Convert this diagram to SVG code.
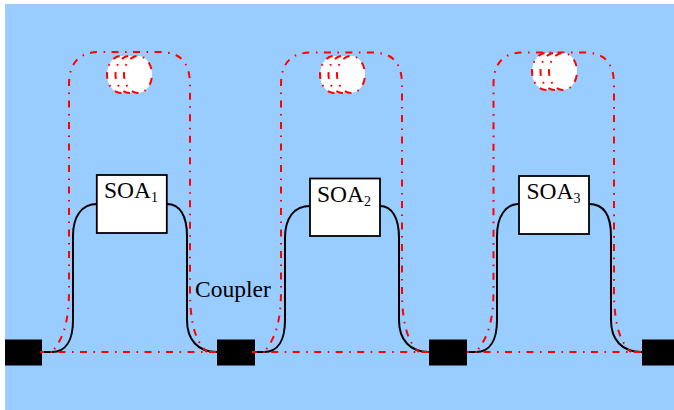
<svg xmlns="http://www.w3.org/2000/svg" width="674" height="410" viewBox="0 0 674 410">
<style>
.wire{fill:none;stroke:#000;stroke-width:2}
.red{fill:none;stroke:#f00;stroke-width:2;stroke-dasharray:7 6.5 1.6 6.4;stroke-dashoffset:9.8}
.ring{fill:#fff;stroke:#f00;stroke-width:2;stroke-dasharray:7 6.5 1.6 6.4;stroke-dashoffset:18}
.box{fill:#fff;stroke:#000;stroke-width:1.8}
.coupler{fill:#000}
text{font-family:"Liberation Serif","Times New Roman",serif;fill:#000;font-size:23.5px}
.sub{font-size:14px}
</style>
<rect x="5" y="4" width="669" height="406" fill="#99ccff"/>
<g id="connectors">
<path class="wire" d="M42 352H52C66 352 73 340 73 320V236C73 216 82 204 97 204"/>
<path class="wire" d="M167 204C180 204 187 216 187 236V320C187 340 198 352 217 352"/>
<path class="wire" d="M255 352H264C278 352 285 340 285 320V238C285 218 294 206 310 206"/>
<path class="wire" d="M380 206C392 206 399 218 399 238V320C399 340 410 352 429 352"/>
<path class="wire" d="M467 352H476C490 352 497 340 497 320V236C497 216 506 204 519 204"/>
<path class="wire" d="M589 204C604 204 611 216 611 236V320C611 340 622 352 642 352"/>
<path class="red" d="M52 352C62 340 69 325 69 290V85C69 62 80 52 100 52H160C180 52 190 62 190 85V290C190 325 196 342 207 352"/>
<path class="red" d="M264 352C274 340 281 325 281 290V85C281 62 292 52.500 312 52.500H372C392 52.500 402 62 402 85V290C402 325 408 342 419 352"/>
<path class="red" d="M476 352C486 340 493.500 325 493.500 290V85C493.500 62 504 52.500 524 52.500H584C604 52.500 614 62 614 85V290C614 325 620 342 631 352"/>
</g>
<g id="ring1"><ellipse class="ring" cx="121" cy="74.500" rx="14" ry="18.500"/><ellipse class="ring" cx="129.500" cy="74.500" rx="14" ry="18.500"/><ellipse class="ring" cx="138" cy="74.500" rx="14" ry="18.500"/></g>
<g id="ring2"><ellipse class="ring" cx="334" cy="74.500" rx="14" ry="18.500"/><ellipse class="ring" cx="342.500" cy="74.500" rx="14" ry="18.500"/><ellipse class="ring" cx="351" cy="74.500" rx="14" ry="18.500"/></g>
<g id="ring3"><ellipse class="ring" cx="546" cy="71.500" rx="14" ry="18.500"/><ellipse class="ring" cx="554.500" cy="71.500" rx="14" ry="18.500"/><ellipse class="ring" cx="563" cy="71.500" rx="14" ry="18.500"/></g>
<g id="coupler1"><rect class="coupler" x="5" y="339.500" width="37" height="26"/></g>
<g id="coupler2"><rect class="coupler" x="217" y="339.500" width="38" height="26"/></g>
<g id="coupler3"><rect class="coupler" x="429" y="339.500" width="38" height="26"/></g>
<g id="coupler4"><rect class="coupler" x="642" y="339.500" width="32" height="26"/></g>
<g id="bus">
<path class="red" style="stroke-dashoffset:3" d="M40 352H217"/>
<path class="red" style="stroke-dashoffset:2.300" d="M252 352H432"/>
<path class="red" style="stroke-dashoffset:5" d="M467 352H643"/>
</g>
<g id="soa1"><rect class="box" x="96.800" y="175" width="70" height="58"/><text x="104" y="198">SOA<tspan class="sub" dy="4">1</tspan></text></g>
<g id="soa2"><rect class="box" x="310" y="178.500" width="70" height="57.500"/><text x="317" y="202">SOA<tspan class="sub" dy="4">2</tspan></text></g>
<g id="soa3"><rect class="box" x="519" y="176" width="70" height="58"/><text x="526.500" y="199">SOA<tspan class="sub" dy="4">3</tspan></text></g>
<g id="label"><text x="195" y="297">Coupler</text></g>
</svg>
